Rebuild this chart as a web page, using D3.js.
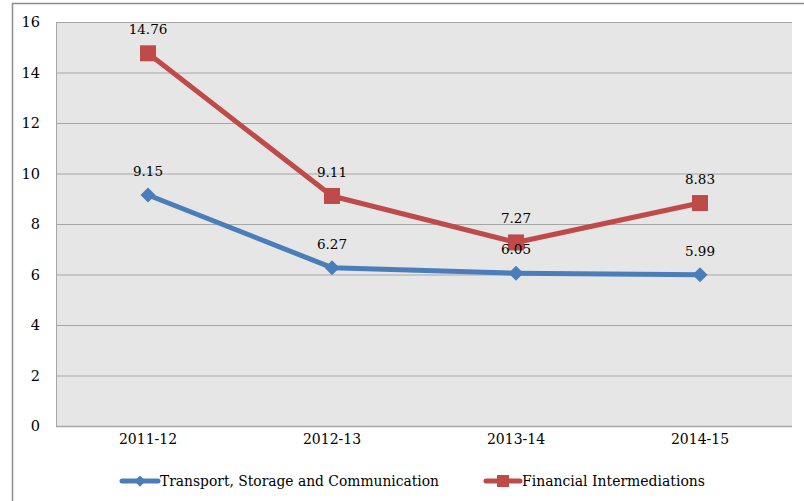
<!DOCTYPE html>
<html>
<head>
<meta charset="utf-8">
<script src="https://cdn.jsdelivr.net/npm/d3@7"></script>
<style>
  html, body { margin: 0; padding: 0; background: #fff; }
  svg { display: block; }
</style>
</head>
<body>
<svg id="chart" width="804" height="501"></svg>
<script>
// Growth figures by year for two services sectors
const years = ["2011-12", "2012-13", "2013-14", "2014-15"];
const transport = [9.15, 6.27, 6.05, 5.99];
const financial = [14.76, 9.11, 7.27, 8.83];
const yTicks = [0, 2, 4, 6, 8, 10, 12, 14, 16];
const seriesNames = ["Transport, Storage and Communication", "Financial Intermediations"];

const serif = "'DejaVu Serif', 'Liberation Serif', serif";
const svg = d3.select("#chart");
const plot = { left: 56, right: 792, top: 22, bottom: 426 };

// Outer frame
svg.append("rect")
  .attr("x", 12.5).attr("y", 3.5)
  .attr("width", 820).attr("height", 520)
  .attr("fill", "#fff")
  .attr("stroke", "#8c8c8c").attr("stroke-width", 1.5);

const x = d3.scaleBand().domain(years).range([plot.left, plot.right]);
const y = d3.scaleLinear().domain([0, 16]).range([plot.bottom, plot.top]);

// Plot area background
svg.append("rect")
  .attr("x", plot.left).attr("y", plot.top)
  .attr("width", plot.right - plot.left).attr("height", plot.bottom - plot.top)
  .attr("fill", "#e6e6e6");

// Horizontal gridlines
svg.append("g").selectAll("line").data(yTicks.filter(d => d > 0)).join("line")
  .attr("x1", plot.left).attr("x2", plot.right)
  .attr("y1", d => y(d) + 0.5).attr("y2", d => y(d) + 0.5)
  .attr("stroke", "#a6a6a6").attr("stroke-width", 1);

// Axis lines
svg.append("line")
  .attr("x1", plot.left + 0.5).attr("x2", plot.left + 0.5)
  .attr("y1", plot.top).attr("y2", plot.bottom)
  .attr("stroke", "#a6a6a6");
svg.append("line")
  .attr("x1", plot.left).attr("x2", plot.right)
  .attr("y1", plot.bottom + 0.5).attr("y2", plot.bottom + 0.5)
  .attr("stroke", "#a6a6a6").attr("stroke-width", 1.5);

// Y axis labels
const yAxis = d3.axisLeft(y).tickValues(yTicks).tickSize(0).tickPadding(16);
const gy = svg.append("g").attr("transform", `translate(${plot.left},0)`).call(yAxis);
gy.select(".domain").remove();
gy.selectAll("text")
  .attr("font-family", serif)
  .attr("font-size", 14.5)
  .attr("fill", "#000");

// X axis labels
const xAxis = d3.axisBottom(x).tickSize(0).tickPadding(8);
const gx = svg.append("g").attr("transform", `translate(0,${plot.bottom})`).call(xAxis);
gx.select(".domain").remove();
gx.selectAll("text")
  .attr("font-family", serif)
  .attr("font-size", 14)
  .attr("fill", "#000");

const cx = d => x(d) + x.bandwidth() / 2;
const line = d3.line().x(d => cx(d.year)).y(d => y(d.value));

const series = [
  { name: seriesNames[0], values: transport, color: "#4a7ebb", marker: "diamond" },
  { name: seriesNames[1], values: financial, color: "#be4b48", marker: "square" }
];

function drawMarker(g, type, color, px, py, scale) {
  if (type === "square") {
    const s = 16 * scale;
    g.append("rect").attr("x", px - s / 2).attr("y", py - s / 2)
      .attr("width", s).attr("height", s).attr("fill", color);
  } else {
    const r = 7.5 * scale;
    g.append("path")
      .attr("d", `M${px},${py - r}L${px + r},${py}L${px},${py + r}L${px - r},${py}Z`)
      .attr("fill", color);
  }
}

series.forEach(s => {
  const pts = years.map((yr, i) => ({ year: yr, value: s.values[i] }));
  svg.append("path").datum(pts)
    .attr("d", line)
    .attr("fill", "none")
    .attr("stroke", s.color)
    .attr("stroke-width", 5)
    .attr("stroke-linejoin", "round");
  const mg = svg.append("g");
  pts.forEach(p => drawMarker(mg, s.marker, s.color, cx(p.year), y(p.value), 1));
});

// Data labels
series.forEach(s => {
  svg.append("g").selectAll("text").data(years.map((yr, i) => ({ year: yr, value: s.values[i] })))
    .join("text")
    .attr("x", d => cx(d.year))
    .attr("y", d => y(d.value) - 19)
    .attr("text-anchor", "middle")
    .attr("font-family", serif)
    .attr("font-size", 13.5)
    .attr("fill", "#000")
    .text(d => d.value.toFixed(2));
});

// Legend
const legend = [
  { s: series[0], lx: 122, tx: 160, tw: 279 },
  { s: series[1], lx: 486, tx: 522, tw: 183 }
];
const ly = 481;
legend.forEach(l => {
  svg.append("line")
    .attr("x1", l.lx).attr("x2", l.tx - 2)
    .attr("y1", ly).attr("y2", ly)
    .attr("stroke", l.s.color).attr("stroke-width", 5).attr("stroke-linecap", "round");
  const g = svg.append("g");
  drawMarker(g, l.s.marker, l.s.color, (l.lx + l.tx - 2) / 2, ly, 0.75);
  svg.append("text")
    .attr("x", l.tx).attr("y", ly + 5)
    .attr("font-family", serif)
    .attr("font-size", 15)
    .attr("textLength", l.tw)
    .attr("lengthAdjust", "spacingAndGlyphs")
    .attr("fill", "#000")
    .text(l.s.name);
});
</script>
</body>
</html>
